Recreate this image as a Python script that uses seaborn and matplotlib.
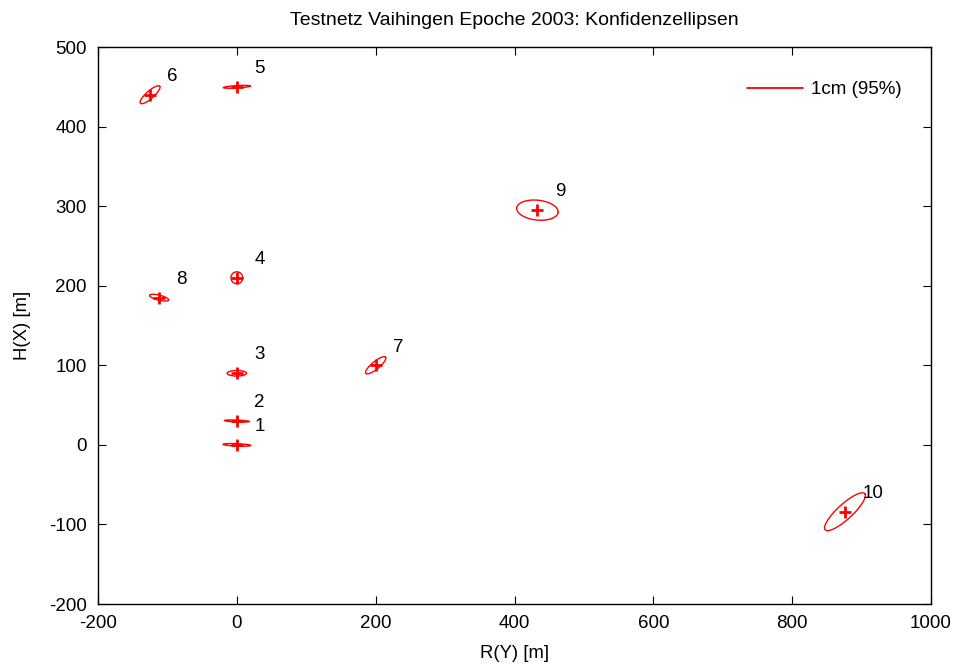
import numpy as np
import pandas as pd
import matplotlib
matplotlib.use("Agg")
import matplotlib.pyplot as plt
from matplotlib.lines import Line2D
import seaborn as sns

# Point numbers and coordinates [m]
points = ["1", "2", "3", "4", "5", "6", "7", "8", "9", "10"]
y_coord = [0, 0, 0, 0, 0, -125, 200, -112, 433, 876]
x_coord = [0, 30, 90, 210, 450, 440, 100, 185, 295, -84]

# Confidence ellipse parameters (plotted size, axis units)
semi_major = [20, 18, 14, 8.5, 19.5, 17.5, 17.5, 14, 30, 36.5]
semi_minor = [1.5, 1.2, 3.5, 7.5, 1.5, 5, 5, 3.2, 12.5, 10]
orientation_deg = [-2, -2, 0, 0, 3, 37, 35, -12, -5, 38]

sns.set_theme(style="ticks")
plt.rcParams["font.family"] = ["Liberation Sans", "DejaVu Sans"]
plt.rcParams["axes.unicode_minus"] = False
plt.rcParams["text.color"] = "black"
plt.rcParams["axes.labelcolor"] = "black"

t = np.linspace(0, 2 * np.pi, 200)
rows = []
for p, cy, cx, a, b, th in zip(points, y_coord, x_coord, semi_major, semi_minor, orientation_deg):
    th = np.deg2rad(th)
    ex = cy + a * np.cos(t) * np.cos(th) - b * np.sin(t) * np.sin(th)
    ey = cx + a * np.cos(t) * np.sin(th) + b * np.sin(t) * np.cos(th)
    rows.append(pd.DataFrame({"pt": p, "ry": ex, "hx": ey, "i": np.arange(len(t))}))
ell = pd.concat(rows, ignore_index=True)
centers = pd.DataFrame({"pt": points, "ry": y_coord, "hx": x_coord})

fig = plt.figure(figsize=(9.56, 6.65), dpi=100)
ax = fig.add_axes([0.1025, 0.0917, 0.9739 - 0.1025, 0.9293 - 0.0917])

sns.lineplot(data=ell, x="ry", y="hx", units="pt", estimator=None, sort=False,
             color="red", linewidth=1.0, ax=ax, legend=False)
sns.scatterplot(data=centers, x="ry", y="hx", marker="+", s=65, color="red",
                linewidth=2.0, ax=ax, legend=False, zorder=3)

for p, cy, cx in zip(points, y_coord, x_coord):
    ax.text(cy + 25, cx + 23, p, fontsize=13.5, ha="left", va="center", color="black")

ax.set_xlim(-200, 1000)
ax.set_ylim(-200, 500)
ax.set_xticks(np.arange(-200, 1001, 200))
ax.set_yticks(np.arange(-200, 501, 100))
ax.tick_params(direction="in", length=6, width=0.8, top=True, right=True,
               labelsize=13.5, colors="black", pad=8)
for s in ax.spines.values():
    s.set_color("black")
    s.set_linewidth(1.0)

ax.set_xlabel("R(Y) [m]", fontsize=13.3, labelpad=9, color="black")
ax.set_ylabel("H(X) [m]", fontsize=13.3, labelpad=13, color="black")
ax.set_title("Testnetz Vaihingen Epoche 2003: Konfidenzellipsen", fontsize=14, pad=16,
             color="black")

handle = Line2D([], [], color="red", linewidth=1.3)
ax.legend([handle], ["1cm (95%)"], loc="upper right", frameon=False, fontsize=13.5,
          handlelength=3.0, handletextpad=0.45, borderaxespad=0,
          bbox_to_anchor=(0.974, 0.952))

fig.savefig("out.png", dpi=100)
